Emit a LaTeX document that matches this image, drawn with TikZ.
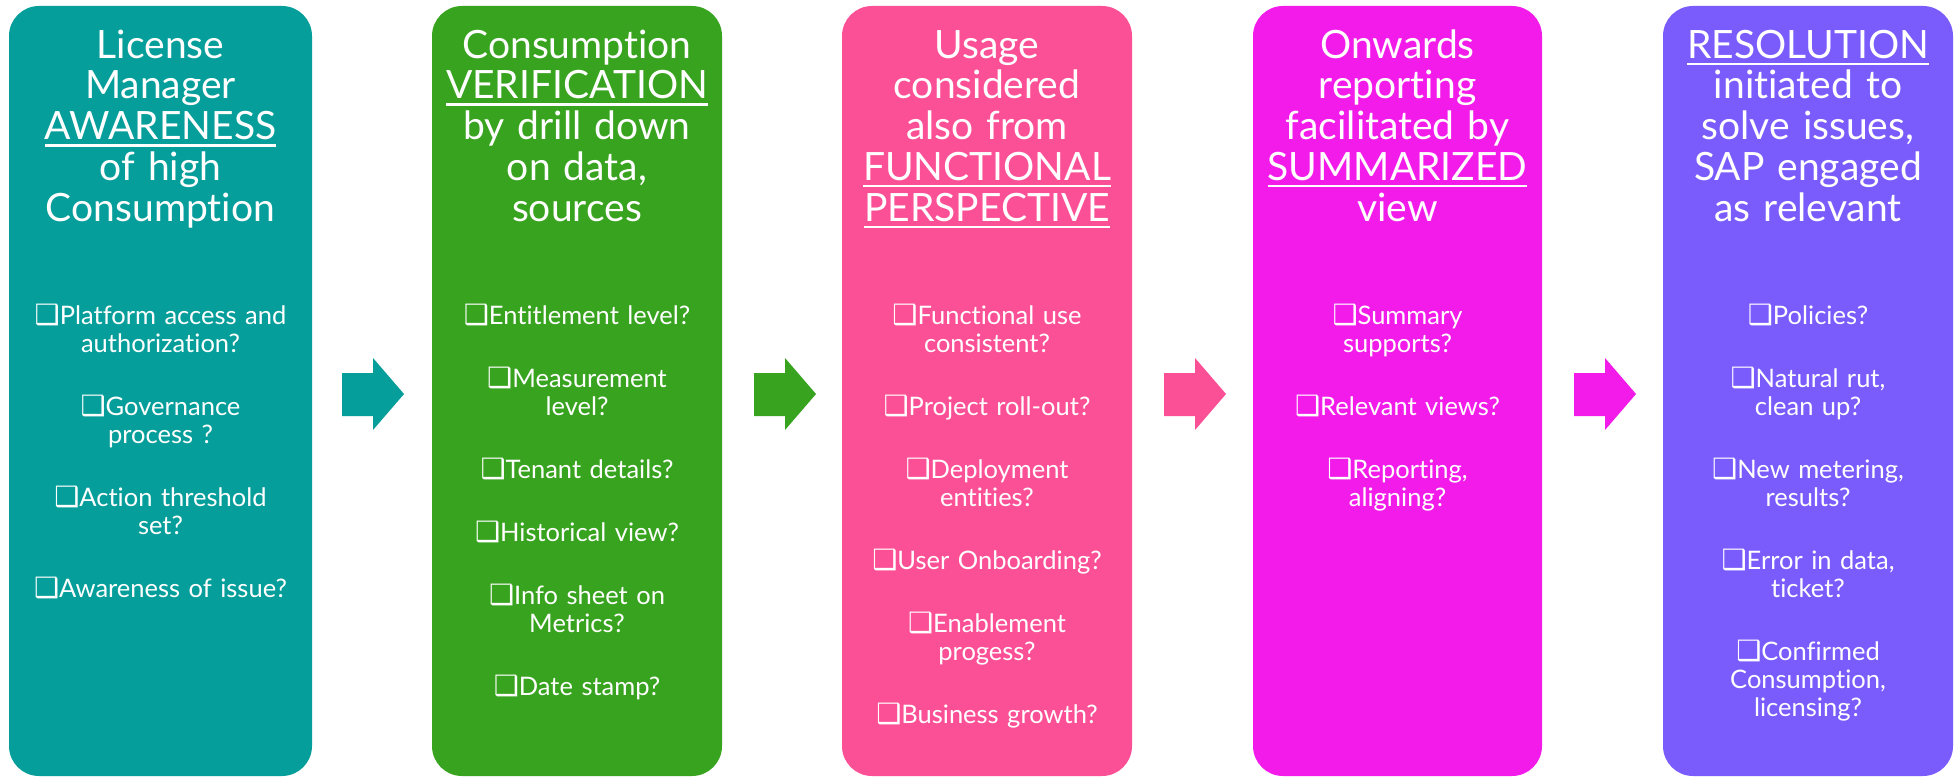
\documentclass[tikz,border=0pt]{standalone}
\usepackage{fontspec}
\setmainfont{Lato}[Ligatures={NoCommon}]
\newfontfamily\symfont{DejaVu Sans}
\definecolor{cteal}{RGB}{6,158,154}
\definecolor{cgreen}{RGB}{56,163,31}
\definecolor{cpink}{RGB}{252,80,150}
\definecolor{cmag}{RGB}{242,27,234}
\definecolor{cpurp}{RGB}{122,92,253}
\newsavebox\ulbox
\newcommand\ulw[1]{\leavevmode\sbox\ulbox{#1}\rlap{\rule[-7pt]{\wd\ulbox}{2.5pt}}\usebox\ulbox}
\newcommand\cb{{\symfont\fontsize{28}{28}\selectfont ❑}}
\newlength\cbw
\newcommand\hi{\hspace*{\cbw}}
\tikzset{
  stage/.style={draw=none, rounded corners=30pt, minimum height=770pt, inner sep=0pt},
  ttl/.style={anchor=north, inner sep=0pt, text=white, align=center, text width=290pt,
    font=\fontsize{39}{40.75}\selectfont},
  itm/.style={anchor=north, inner sep=0pt, text=white, align=center, text width=290pt,
    font=\fontsize{25.5}{28}\selectfont},
}
\newcommand\blockarrow[2]{%
  \fill[#2] (#1,373) -- (#1+31,373) -- (#1+31,358) -- (#1+62,394) -- (#1+31,430) -- (#1+31,416) -- (#1,416) -- cycle;}
\begin{document}
\begin{tikzpicture}[x=1pt,y=-1pt]
\settowidth\cbw{\fontsize{25.5}{28}\selectfont\cb}
\useasboundingbox (0,0) rectangle (1959,778);
\fill[white] (0,0) rectangle (1959,778);
% boxes
\node[stage, fill=cteal, minimum width=303pt] (b1) at (160.5,391) {};
\node[stage, fill=cgreen, minimum width=290pt] (b2) at (577,391) {};
\node[stage, fill=cpink, minimum width=290pt] (b3) at (987,391) {};
\node[stage, fill=cmag, minimum width=289pt] (b4) at (1397.5,391) {};
\node[stage, fill=cpurp, minimum width=290pt] (b5) at (1808,391) {};
% arrows
\blockarrow{342}{cteal}
\blockarrow{754}{cgreen}
\blockarrow{1164}{cpink}
\blockarrow{1574}{cmag}
% titles
\node[ttl] (t1) at (160.5,26) {\rule{0pt}{32pt}License\\Manager\\\ulw{AWARENESS}\\of high\\Consumption};
\node[ttl] (t2) at (577,26) {\rule{0pt}{32pt}Consumption\\\ulw{VERIFICATION}\\by drill down\\on data,\\sources};
\node[ttl] (t3) at (987,26) {\rule{0pt}{32pt}Usage\\considered\\also from\\\ulw{FUNCTIONAL}\\\ulw{PERSPECTIVE}};
\node[ttl] (t4) at (1397.5,26) {\rule{0pt}{32pt}Onwards\\reporting\\facilitated by\\\ulw{SUMMARIZED}\\view};
\node[ttl] (t5) at (1808,26) {\rule{0pt}{32pt}\ulw{RESOLUTION}\\initiated to\\solve issues,\\SAP engaged\\as relevant};
% items
\node[itm] (i1) at (160.5,304) {\rule{0pt}{20pt}\cb Platform access and\\\hi authorization?\\[35pt]\cb Governance\\\hi process ?\\[35pt]\cb Action threshold\\\hi set?\\[35pt]\cb Awareness of issue?};
\node[itm] (i2) at (577,304) {\rule{0pt}{20pt}\cb Entitlement level?\\[35pt]\cb Measurement\\\hi level?\\[35pt]\cb Tenant details?\\[35pt]\cb Historical view?\\[35pt]\cb Info sheet on\\\hi Metrics?\\[35pt]\cb Date stamp?};
\node[itm] (i3) at (987,304) {\rule{0pt}{20pt}\cb Functional use\\\hi consistent?\\[35pt]\cb Project roll-out?\\[35pt]\cb Deployment\\\hi entities?\\[35pt]\cb User Onboarding?\\[35pt]\cb Enablement\\\hi progess?\\[35pt]\cb Business growth?};
\node[itm] (i4) at (1397.5,304) {\rule{0pt}{20pt}\cb Summary\\\hi supports?\\[35pt]\cb Relevant views?\\[35pt]\cb Reporting,\\\hi aligning?};
\node[itm] (i5) at (1808,304) {\rule{0pt}{20pt}\cb Policies?\\[35pt]\cb Natural rut,\\\hi clean up?\\[35pt]\cb New metering,\\\hi results?\\[35pt]\cb Error in data,\\\hi ticket?\\[35pt]\cb Confirmed\\\hi Consumption,\\\hi licensing?};
\end{tikzpicture}
\end{document}
